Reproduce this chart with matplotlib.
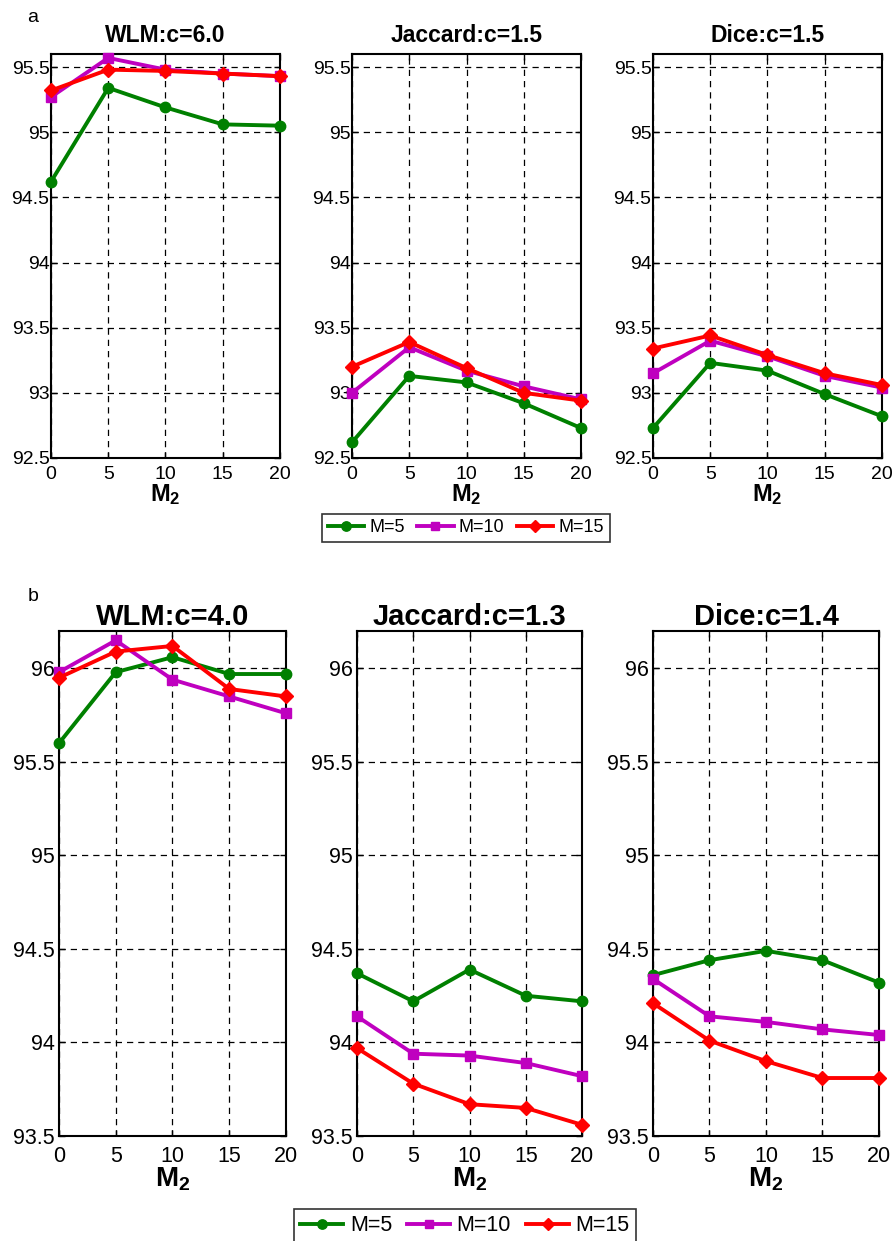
import matplotlib
matplotlib.use("Agg")
import matplotlib.pyplot as plt
from matplotlib.lines import Line2D

plt.rcParams['font.family'] = ['Liberation Sans', 'DejaVu Sans']
plt.rcParams['mathtext.fontset'] = 'custom'
plt.rcParams['mathtext.rm'] = 'Liberation Sans'
plt.rcParams['mathtext.bf'] = 'Liberation Sans:bold'

x_vals = [0, 5, 10, 15, 20]
series_labels = ["M=5", "M=10", "M=15"]

# Row a
a_titles = ["WLM:c=6.0", "Jaccard:c=1.5", "Dice:c=1.5"]
a_wlm = [[94.62, 95.34, 95.19, 95.06, 95.05],
         [95.27, 95.57, 95.48, 95.45, 95.43],
         [95.32, 95.48, 95.47, 95.45, 95.43]]
a_jac = [[92.62, 93.13, 93.08, 92.92, 92.73],
         [93.00, 93.35, 93.17, 93.05, 92.95],
         [93.20, 93.39, 93.19, 93.00, 92.94]]
a_dice = [[92.73, 93.23, 93.17, 92.99, 92.82],
          [93.15, 93.40, 93.28, 93.13, 93.04],
          [93.34, 93.44, 93.29, 93.15, 93.06]]
a_yticks = [92.5, 93, 93.5, 94, 94.5, 95, 95.5]
a_yticklabels = ["92.5", "93", "93.5", "94", "94.5", "95", "95.5"]

# Row b
b_titles = ["WLM:c=4.0", "Jaccard:c=1.3", "Dice:c=1.4"]
b_wlm = [[95.60, 95.98, 96.06, 95.97, 95.97],
         [95.98, 96.15, 95.94, 95.85, 95.76],
         [95.95, 96.09, 96.12, 95.89, 95.85]]
b_jac = [[94.37, 94.22, 94.39, 94.25, 94.22],
         [94.14, 93.94, 93.93, 93.89, 93.82],
         [93.97, 93.78, 93.67, 93.65, 93.56]]
b_dice = [[94.36, 94.44, 94.49, 94.44, 94.32],
          [94.34, 94.14, 94.11, 94.07, 94.04],
          [94.21, 94.01, 93.90, 93.81, 93.81]]
b_yticks = [93.5, 94, 94.5, 95, 95.5, 96]
b_yticklabels = ["93.5", "94", "94.5", "95", "95.5", "96"]

colors = ["#008000", "#bf00bf", "#ff0000"]
markers = ["o", "s", "D"]
msizes = [7.5, 6.5, 7]

W, H = 895, 1241
fig = plt.figure(figsize=(W / 100, H / 100), dpi=100)


def px_axes(left, top, right, bottom):
    return fig.add_axes([left / W, 1 - bottom / H, (right - left) / W, (bottom - top) / H])


def style(ax, title, ylim, yticks, ytl, fs_tick, fs_title, fs_xlabel, tpad, xpad, ypad):
    ax.set_xlim(0, 20)
    ax.set_ylim(*ylim)
    ax.set_xticks(x_vals)
    ax.set_xticklabels([str(v) for v in x_vals], fontsize=fs_tick)
    ax.set_yticks(yticks)
    ax.set_yticklabels(ytl, fontsize=fs_tick)
    ax.grid(True, color='black', linestyle=(0, (5, 4)), linewidth=0.9)
    ax.tick_params(direction='in', length=4, width=1, top=True, right=True)
    ax.tick_params(axis='x', pad=xpad)
    ax.tick_params(axis='y', pad=ypad)
    for s in ax.spines.values():
        s.set_linewidth(1.5)
    ax.set_title(title, fontsize=fs_title, fontweight='bold', pad=tpad)
    ax.set_xlabel(r'$\mathbf{M_2}$', fontsize=fs_xlabel, labelpad=-1)


def draw(ax, data):
    for i, ys in enumerate(data):
        ax.plot(x_vals, ys, color=colors[i], marker=markers[i], markersize=msizes[i],
                linewidth=2.8, label=series_labels[i], clip_on=False, zorder=3)


top_boxes = [(51, 54, 280, 458), (352, 54, 581, 458), (653, 54, 882, 458)]
bot_boxes = [(59, 631, 286, 1136), (357, 631, 582, 1136), (653, 631, 879, 1136)]

for box, title, data in zip(top_boxes, a_titles, [a_wlm, a_jac, a_dice]):
    ax = px_axes(*box)
    draw(ax, data)
    style(ax, title, (92.5, 95.6), a_yticks, a_yticklabels, 14, 16.5, 17, 9, 6, 1)

for box, title, data in zip(bot_boxes, b_titles, [b_wlm, b_jac, b_dice]):
    ax = px_axes(*box)
    draw(ax, data)
    style(ax, title, (93.5, 96.2), b_yticks, b_yticklabels, 15.5, 21, 20, 4, 7, 3)

fig.text(33 / W, 1 - 17 / H, "a", fontsize=14, ha='center', va='center')
fig.text(33 / W, 1 - 597 / H, "b", fontsize=14, ha='center', va='center')

handles = [Line2D([0], [0], color=colors[i], marker=markers[i], markersize=msizes[i] * 0.9,
                  linewidth=2.8) for i in range(3)]

leg1 = fig.legend(handles, series_labels, loc='center', bbox_to_anchor=(466 / W, 1 - 528 / H),
                  ncol=3, fontsize=13, frameon=True, fancybox=False, edgecolor='black',
                  handlelength=2.0, handletextpad=0.3, columnspacing=0.7,
                  borderpad=0.3)
leg1.get_frame().set_linewidth(1.2)

leg2 = fig.legend(handles, series_labels, loc='upper center', bbox_to_anchor=(465 / W, 1 - 1209 / H),
                  ncol=3, fontsize=15.5, frameon=True, fancybox=False, edgecolor='black',
                  handlelength=2.0, handletextpad=0.3, columnspacing=0.7,
                  borderpad=0.3, borderaxespad=0)
leg2.get_frame().set_linewidth(1.2)

fig.savefig("out.png", dpi=100)
